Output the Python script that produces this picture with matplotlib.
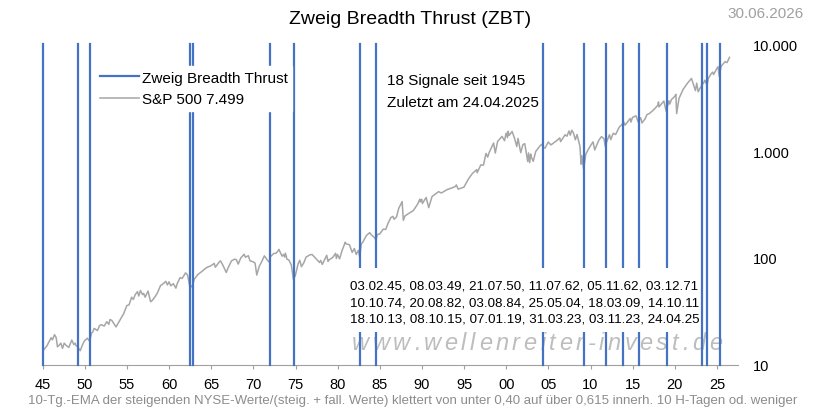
import numpy as np
import matplotlib
matplotlib.use("Agg")
import matplotlib.pyplot as plt
from matplotlib.lines import Line2D
from matplotlib.patches import Rectangle

plt.rcParams['font.family'] = ['Liberation Sans', 'DejaVu Sans']

# S&P 500 (decimal year, close)
spx_t = [1945.00, 1945.25, 1945.50, 1945.75, 1946.00, 1946.15, 1946.40, 1946.60, 1946.75, 1946.95,
         1947.15, 1947.35, 1947.55, 1947.80, 1948.10, 1948.45, 1948.70, 1948.85, 1948.95, 1949.15,
         1949.45, 1949.70, 1949.95, 1950.30, 1950.55, 1950.80, 1950.95, 1951.10, 1951.50, 1951.75,
         1951.95, 1952.30, 1952.60, 1952.85, 1952.98, 1953.20, 1953.70, 1953.98, 1954.30, 1954.60,
         1954.98, 1955.25, 1955.55, 1955.75, 1955.98, 1956.25, 1956.40, 1956.60, 1956.85, 1956.98,
         1957.15, 1957.50, 1957.80, 1957.98, 1958.30, 1958.60, 1958.98, 1959.30, 1959.60, 1959.80,
         1959.98, 1960.20, 1960.50, 1960.80, 1960.98, 1961.30, 1961.55, 1961.95, 1962.20, 1962.48,
         1962.80, 1962.98, 1963.40, 1963.90, 1964.40, 1964.98, 1965.35, 1965.48, 1965.98, 1966.10,
         1966.40, 1966.78, 1966.98, 1967.40, 1967.75, 1967.98, 1968.20, 1968.50, 1968.90, 1969.05,
         1969.40, 1969.60, 1969.98, 1970.20, 1970.40, 1970.70, 1970.98, 1971.30, 1971.60, 1971.88,
         1971.98, 1972.40, 1972.70, 1972.98, 1973.03, 1973.40, 1973.58, 1973.70, 1973.80, 1973.98,
         1974.20, 1974.50, 1974.76, 1974.85, 1974.95, 1975.30, 1975.50, 1975.70, 1975.98, 1976.25,
         1976.75, 1976.98, 1977.40, 1977.85, 1977.98, 1978.17, 1978.70, 1978.85, 1978.98, 1979.40,
         1979.75, 1979.85, 1979.98, 1980.23, 1980.50, 1980.90, 1980.98, 1981.40, 1981.72, 1981.98,
         1982.20, 1982.45, 1982.61, 1982.80, 1982.98, 1983.40, 1983.80, 1983.98, 1984.30, 1984.55,
         1984.70, 1984.98, 1985.40, 1985.70, 1985.98, 1986.30, 1986.55, 1986.70, 1986.98, 1987.25,
         1987.65, 1987.79, 1987.98, 1988.40, 1988.98, 1989.50, 1989.75, 1989.80, 1989.98, 1990.05,
         1990.50, 1990.80, 1990.98, 1991.20, 1991.98, 1992.30, 1992.98, 1993.50, 1993.98, 1994.08,
         1994.30, 1994.98, 1995.50, 1995.98, 1996.50, 1996.55, 1996.98, 1997.30, 1997.60, 1997.80,
         1997.98, 1998.50, 1998.70, 1998.98, 1999.50, 1999.80, 1999.98, 2000.15, 2000.22, 2000.35,
         2000.70, 2000.98, 2001.25, 2001.40, 2001.72, 2001.98, 2002.20, 2002.55, 2002.65, 2002.78,
         2002.90, 2002.98, 2003.20, 2003.50, 2003.98, 2004.20, 2004.40, 2004.60, 2004.98, 2005.30,
         2005.98, 2006.35, 2006.45, 2006.98, 2007.20, 2007.45, 2007.60, 2007.78, 2007.98, 2008.20,
         2008.40, 2008.75, 2008.88, 2008.98, 2009.18, 2009.45, 2009.98, 2010.30, 2010.50, 2010.98,
         2011.30, 2011.60, 2011.76, 2011.98, 2012.25, 2012.40, 2012.70, 2012.98, 2013.40, 2013.98,
         2014.10, 2014.70, 2014.80, 2014.98, 2015.40, 2015.65, 2015.95, 2016.10, 2016.48, 2016.70,
         2016.98, 2017.50, 2017.98, 2018.07, 2018.12, 2018.70, 2018.98, 2019.30, 2019.40, 2019.60,
         2019.98, 2020.13, 2020.22, 2020.50, 2020.98, 2021.50, 2021.98, 2022.45, 2022.60, 2022.78,
         2022.98, 2023.50, 2023.55, 2023.82, 2023.98, 2024.30, 2024.50, 2024.60, 2024.98, 2025.13,
         2025.27, 2025.50, 2025.98, 2026.20, 2026.49]
spx_v = [13.5, 14.3, 15.1, 16.5, 18.0, 17.2, 19.2, 18.0, 14.8, 15.3,
         16.0, 14.3, 16.0, 15.2, 14.6, 17.1, 15.5, 16.0, 15.2, 14.8,
         13.6, 15.3, 16.8, 17.8, 16.7, 19.9, 20.4, 22.0, 21.0, 23.4,
         23.8, 23.1, 25.4, 24.0, 26.6, 26.1, 22.7, 24.8, 27.5, 30.1,
         35.9, 36.5, 43.0, 41.0, 45.5, 48.5, 44.1, 49.7, 45.5, 46.7,
         43.0, 49.1, 39.0, 40.0, 43.0, 47.0, 55.2, 57.5, 60.5, 56.0,
         59.9, 55.0, 57.5, 52.3, 58.1, 65.5, 64.5, 72.6, 69.0, 52.3,
         56.0, 63.1, 70.0, 75.0, 81.0, 84.8, 89.0, 82.0, 92.4, 94.0,
         85.0, 73.2, 80.3, 94.0, 97.5, 96.5, 87.7, 100.0, 108.4, 101.7,
         105.0, 94.0, 92.1, 89.5, 69.3, 84.0, 92.2, 104.8, 97.0, 91.2,
         102.1, 110.0, 111.0, 118.1, 120.2, 104.0, 108.0, 102.0, 111.0, 97.6,
         96.0, 86.0, 62.3, 73.0, 67.1, 88.0, 95.2, 83.0, 90.2, 102.0,
         107.5, 107.5, 99.0, 90.7, 95.1, 87.0, 106.0, 93.0, 96.1, 101.0,
         110.5, 99.0, 107.9, 98.2, 116.0, 140.5, 135.8, 133.0, 112.8, 122.6,
         108.0, 118.0, 102.4, 135.0, 140.6, 162.0, 172.6, 164.9, 157.0, 147.8,
         166.0, 167.2, 186.0, 185.0, 211.3, 238.0, 245.0, 230.0, 242.2, 292.0,
         336.8, 224.8, 247.1, 260.0, 277.7, 320.0, 355.0, 335.0, 353.4, 323.0,
         368.0, 295.5, 330.2, 376.0, 417.1, 405.0, 435.7, 450.0, 466.5, 482.0,
         440.0, 459.3, 545.0, 615.9, 670.0, 626.0, 740.7, 738.0, 950.0, 876.0,
         970.4, 1186.0, 957.3, 1229.2, 1370.0, 1247.0, 1469.3, 1333.0, 1527.5, 1400.0,
         1520.8, 1320.3, 1103.0, 1312.0, 965.8, 1148.1, 1170.0, 797.7, 960.0, 776.8,
         936.0, 879.8, 800.7, 990.0, 1111.9, 1155.0, 1085.0, 1063.0, 1211.9, 1140.0,
         1248.3, 1325.0, 1223.0, 1418.3, 1374.0, 1539.0, 1406.0, 1565.2, 1468.4, 1273.0,
         1426.0, 1100.0, 752.4, 903.3, 676.5, 940.0, 1115.1, 1217.3, 1022.6, 1257.6,
         1363.6, 1300.0, 1099.2, 1257.6, 1419.0, 1278.0, 1465.0, 1426.2, 1669.0, 1848.4,
         1741.0, 2011.0, 1862.0, 2058.9, 2130.8, 1867.6, 2043.9, 1829.1, 2000.5, 2190.0,
         2238.8, 2430.0, 2673.6, 2872.9, 2581.0, 2930.8, 2351.1, 2945.0, 2744.0, 3025.0,
         3230.8, 3386.2, 2237.4, 3100.0, 3756.1, 4297.5, 4766.2, 3666.8, 4305.0, 3577.0,
         3839.5, 4450.0, 4588.0, 4117.4, 4769.8, 5254.0, 5460.0, 5186.0, 5881.6, 6144.0,
         4982.8, 6205.0, 6845.5, 6700.0, 7499.0]

signals = ["03.02.45", "08.03.49", "21.07.50", "11.07.62", "05.11.62", "03.12.71",
           "10.10.74", "20.08.82", "03.08.84", "25.05.04", "18.03.09", "14.10.11",
           "18.10.13", "08.10.15", "07.01.19", "31.03.23", "03.11.23", "24.04.25"]

xticks = [1945, 1950, 1955, 1960, 1965, 1970, 1975, 1980, 1985, 1990, 1995, 2000,
          2005, 2010, 2015, 2020, 2025]
xlabels = ["45", "50", "55", "60", "65", "70", "75", "80", "85", "90", "95", "00",
           "05", "10", "15", "20", "25"]
yticks = [10, 100, 1000, 10000]
ylabels = ["10", "100", "1.000", "10.000"]


def to_year(s):
    d, m, y = (int(p) for p in s.split("."))
    y += 1900 if y >= 45 else 2000
    return y + (m - 1) / 12 + (d - 1) / 365


BLUE = "#4472C4"
GRAY = "#A6A6A6"
W, H = 815, 410

fig = plt.figure(figsize=(W / 100, H / 100), dpi=100)
ax = fig.add_axes([42.7 / W, 44 / H, 695.3 / W, 321 / H])

# pixel -> axes fraction helpers
fx = lambda px: (px - 42.7) / 695.3
fy = lambda py: (365 - py) / 321

for s in signals:
    ax.axvline(to_year(s), color=BLUE, lw=1.6, zorder=3, clip_on=False)
ax.plot(spx_t, spx_v, color=GRAY, lw=1.1, zorder=2)

ax.set_yscale("log")
ax.set_ylim(10, 10000)
ax.set_xlim(1945, 2027.5)
ax.set_xticks(xticks)
ax.set_xticklabels(xlabels, fontsize=10.5)
ax.yaxis.tick_right()
ax.set_yticks(yticks)
ax.set_yticklabels(ylabels, fontsize=10.5)
ax.minorticks_off()
ax.tick_params(axis="y", length=0, pad=11)
ax.tick_params(axis="x", length=3, color="#A0A0A0", pad=6)
for sp in ["top", "left", "right"]:
    ax.spines[sp].set_visible(False)
ax.spines["bottom"].set_color("#A0A0A0")

# legend
handles = [Line2D([], [], color=BLUE, lw=1.6), Line2D([], [], color=GRAY, lw=1.1)]
last = f"{spx_v[-1]:,.0f}".replace(",", ".")
leg = ax.legend(handles, ["Zweig Breadth Thrust", f"S&P 500 {last}"],
                loc="upper left", bbox_to_anchor=(fx(95), fy(66)),
                borderaxespad=0, fontsize=11, handlelength=2.6, handletextpad=0.15,
                labelspacing=0.5, borderpad=0.3, frameon=True, fancybox=False,
                framealpha=1, edgecolor="white", facecolor="white")
leg.set_zorder(5)

# info text
d, m, y = signals[-1].split(".")
ax.text(fx(387), fy(80), f"{len(signals)} Signale seit 1945",
        transform=ax.transAxes, fontsize=11, va="center", ha="left")
ax.text(fx(387), fy(102), f"Zuletzt am {d}.{m}.20{y}",
        transform=ax.transAxes, fontsize=11, va="center", ha="left")

# white box with dates
ax.add_patch(Rectangle((fx(349), fy(332)), 349 / 695.3, 64 / 321,
                       transform=ax.transAxes, facecolor="white", edgecolor="none", zorder=4))
rows = [", ".join(signals[i:i + 6]) for i in range(0, len(signals), 6)]
ax.text(fx(350), fy(302), "\n".join(rows), transform=ax.transAxes,
        fontsize=9.6, va="center", ha="left", linespacing=1.55, zorder=6)

# watermark, spread letters
wm = "www.wellenreiter-invest.de"
fig.canvas.draw()
r = fig.canvas.get_renderer()
widths = []
for ch in wm:
    t = fig.text(0, 0, ch, fontsize=17, style="italic")
    widths.append(t.get_window_extent(r).width)
    t.remove()
gap = (722 - 352 - sum(widths)) / (len(wm) - 1)
x = 352
for ch, w in zip(wm, widths):
    ax.text(fx(x), fy(349), ch, transform=ax.transAxes, fontsize=17,
            style="italic", color="#BDBDBD", ha="left", va="baseline", zorder=1)
    x += w + gap

fig.text(410 / W, 1 - 20 / H, "Zweig Breadth Thrust (ZBT)", fontsize=14, ha="center", va="center")
fig.text(804 / W, 1 - 14 / H, "30.06.2026", fontsize=11, ha="right", va="center", color="#A0A0A0")
fig.text(28 / W, 9 / H,
         "10-Tg.-EMA der steigenden NYSE-Werte/(steig. + fall. Werte) klettert von unter 0,40 "
         "auf über 0,615 innerh. 10 H-Tagen od. weniger",
         fontsize=9.5, ha="left", va="center", color="#8C8C8C")

fig.savefig("out.png", dpi=100)
